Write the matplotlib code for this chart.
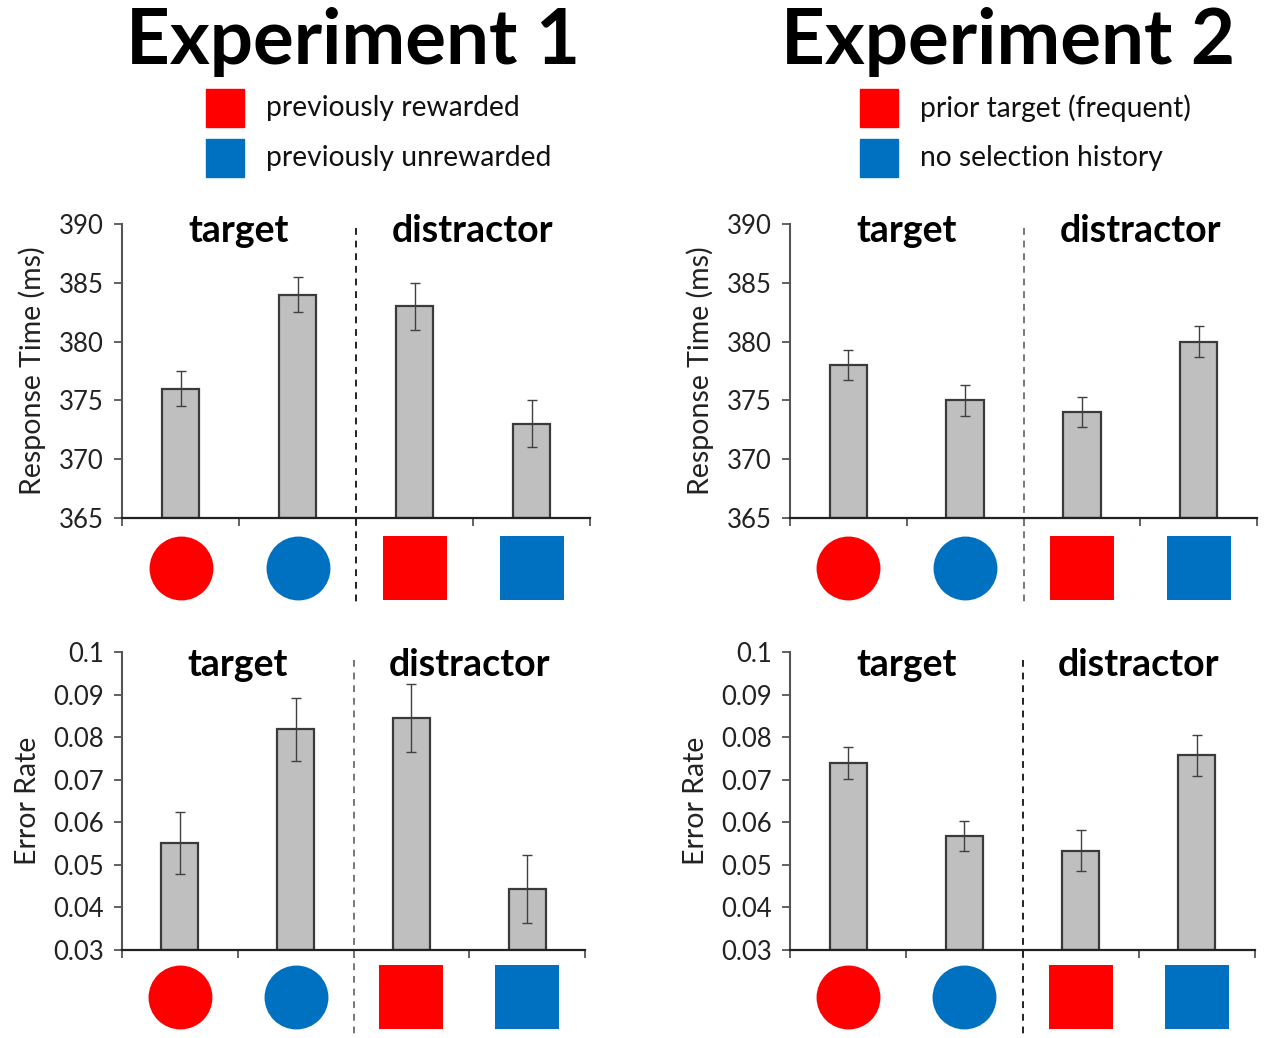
import numpy as np
import matplotlib
matplotlib.use("Agg")
import matplotlib.pyplot as plt
from matplotlib.transforms import blended_transform_factory

plt.rcParams['font.family'] = ['Lato', 'DejaVu Sans']

# data: 4 conditions per panel (target red/blue circle, distractor red/blue square)
groups = ['target', 'distractor']
icon_shapes = ['o', 'o', 's', 's']
icon_colors = ['#FF0000', '#0070C0', '#FF0000', '#0070C0']

exp1_rt = [376, 384, 383, 373]
exp1_rt_err = [1.5, 1.5, 2.0, 2.0]
exp1_er = [0.0552, 0.0818, 0.0846, 0.0443]
exp1_er_err = [0.0073, 0.0073, 0.0080, 0.0080]

exp2_rt = [378, 375, 374, 380]
exp2_rt_err = [1.25, 1.3, 1.25, 1.35]
exp2_er = [0.0739, 0.0568, 0.0533, 0.0757]
exp2_er_err = [0.0037, 0.0036, 0.0048, 0.0049]

rt_ticks = [365, 370, 375, 380, 385, 390]
er_ticks = [0.03, 0.04, 0.05, 0.06, 0.07, 0.08, 0.09, 0.1]
er_ticklabels = ['0.03', '0.04', '0.05', '0.06', '0.07', '0.08', '0.09', '0.1']

titles = ['Experiment 1', 'Experiment 2']
legend_labels = [['previously rewarded', 'previously unrewarded'],
                 ['prior target (frequent)', 'no selection history']]

W, H = 1267, 1038
fig = plt.figure(figsize=(W / 100, H / 100), dpi=100)


def panel(rect, vals, errs, ticks, ticklabels, ylabel, div_color, title_y, div_top, div_bot, icon_y):
    ax = fig.add_axes(rect)
    x = np.arange(4) + 0.5
    ax.bar(x, np.array(vals) - ticks[0], bottom=ticks[0], width=0.32,
           color='#BFBFBF', edgecolor='#3a3a3a', linewidth=1.6, zorder=2)
    ax.errorbar(x, vals, yerr=errs, fmt='none', ecolor='#404040',
                elinewidth=1.0, capsize=3.5, capthick=1.0, zorder=3)
    ax.set_xlim(0, 4)
    ax.set_ylim(ticks[0], ticks[-1])
    ax.set_yticks(ticks)
    ax.set_yticklabels(ticklabels)
    ax.set_xticks([0, 1, 2, 3, 4])
    ax.set_xticklabels([])
    for s in ['top', 'right']:
        ax.spines[s].set_visible(False)
    ax.spines['left'].set_color('#555555')
    ax.spines['bottom'].set_color('#222222')
    ax.spines['left'].set_linewidth(1.5)
    ax.spines['bottom'].set_linewidth(1.6)
    ax.tick_params(axis='y', length=6, width=1.3, color='#555555', labelsize=18.5,
                   labelcolor='#222222', pad=7)
    ax.tick_params(axis='x', length=6, width=1.3, color='#555555')
    ax.set_ylabel(ylabel, fontsize=20.5, color='#222222', labelpad=9)

    tr = blended_transform_factory(ax.transData, ax.transAxes)
    ax.plot([2, 2], [div_top, div_bot], transform=tr, clip_on=False,
            color=div_color, linestyle=(0, (3.5, 3)), linewidth=1.4)
    for i, g in enumerate(groups):
        ax.text(1 + 2 * i, title_y, g, transform=tr, ha='center', va='center',
                fontsize=27, fontweight='bold')
    for xi, m, c in zip(x, icon_shapes, icon_colors):
        ax.scatter([xi], [icon_y], marker=m, s=46 ** 2, color=c, linewidths=0,
                   transform=tr, clip_on=False)
    return ax


def fx(px):
    return px / W


def fy(py):
    return 1 - py / H


# top row: response time, bottom row: error rate
for col, (rt, rte, er, ere, xl, xr, xr2, dcols) in enumerate([
        (exp1_rt, exp1_rt_err, exp1_er, exp1_er_err, 122, 590, 585, ('#222222', '#777777')),
        (exp2_rt, exp2_rt_err, exp2_er, exp2_er_err, 790, 1257, 1255, ('#777777', '#222222'))]):
    panel([fx(xl), fy(518), fx(xr - xl), (518 - 224) / H], rt, rte, rt_ticks,
          [str(t) for t in rt_ticks], 'Response Time (ms)', dcols[0],
          0.975, 0.986, -0.303, -0.170)
    panel([fx(xl), fy(950), fx(xr2 - xl), (950 - 652) / H], er, ere, er_ticks,
          er_ticklabels, 'Error Rate', dcols[1],
          0.958, 0.973, -0.30, -0.158)

# headers and legends
title_cx = [353, 1008]
leg_x = [206, 860]
for i in range(2):
    fig.text(fx(title_cx[i]), fy(42), titles[i], ha='center', va='center',
             fontsize=55, fontweight='bold')
    for j, (c, lab) in enumerate(zip(['#FF0000', '#0070C0'], legend_labels[i])):
        yc = 108 + 50 * j
        fig.patches.append(plt.Rectangle((fx(leg_x[i]), fy(yc + 19)), fx(38), 38 / H,
                                         transform=fig.transFigure, color=c))
        fig.text(fx(leg_x[i] + 60), fy(yc), lab, ha='left', va='center',
                 fontsize=20.3, color='#111111')

fig.savefig('out.png', dpi=100)
